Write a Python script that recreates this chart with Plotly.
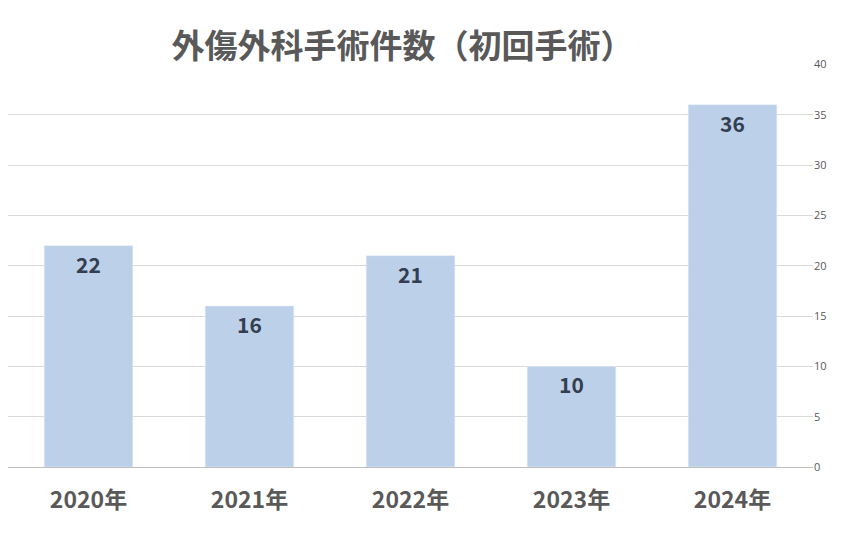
import plotly.graph_objects as go

categories = ["2020年", "2021年", "2022年", "2023年", "2024年"]
values = [22, 16, 21, 10, 36]
tick_vals = [0, 5, 10, 15, 20, 25, 30, 35, 40]

fig = go.Figure(go.Bar(
    x=categories, y=values, marker_color="#BDD0EA",
    text=values, textposition="inside", insidetextanchor="end",
    textfont=dict(size=21, color="#333F50", family="Noto Sans CJK JP"),
    texttemplate="<b>%{text}</b>", yaxis="y",
))
fig.update_layout(
    width=843, height=537, plot_bgcolor="white", paper_bgcolor="white",
    margin=dict(l=0, r=38, t=56, b=78),
    bargap=0.45, showlegend=False,
    title=dict(text="<b>外傷外科手術件数（初回手術）</b>", x=0.49, xref="paper", y=0.95,
               font=dict(size=33, color="#595959", family="Noto Sans CJK JP")),
    xaxis=dict(tickfont=dict(size=23, color="#595959", family="Noto Sans CJK JP"),
               tickprefix="<b>", ticksuffix="</b>", showline=True, linecolor="#BFBFBF",
               ticks="outside", ticklen=12, tickcolor="rgba(0,0,0,0)"),
    yaxis=dict(side="right", range=[0, 40.05], tickvals=tick_vals, gridcolor="#D9D9D9",
               tickfont=dict(size=11, color="#595959"), zeroline=False),
)
fig.write_html("out.html")
